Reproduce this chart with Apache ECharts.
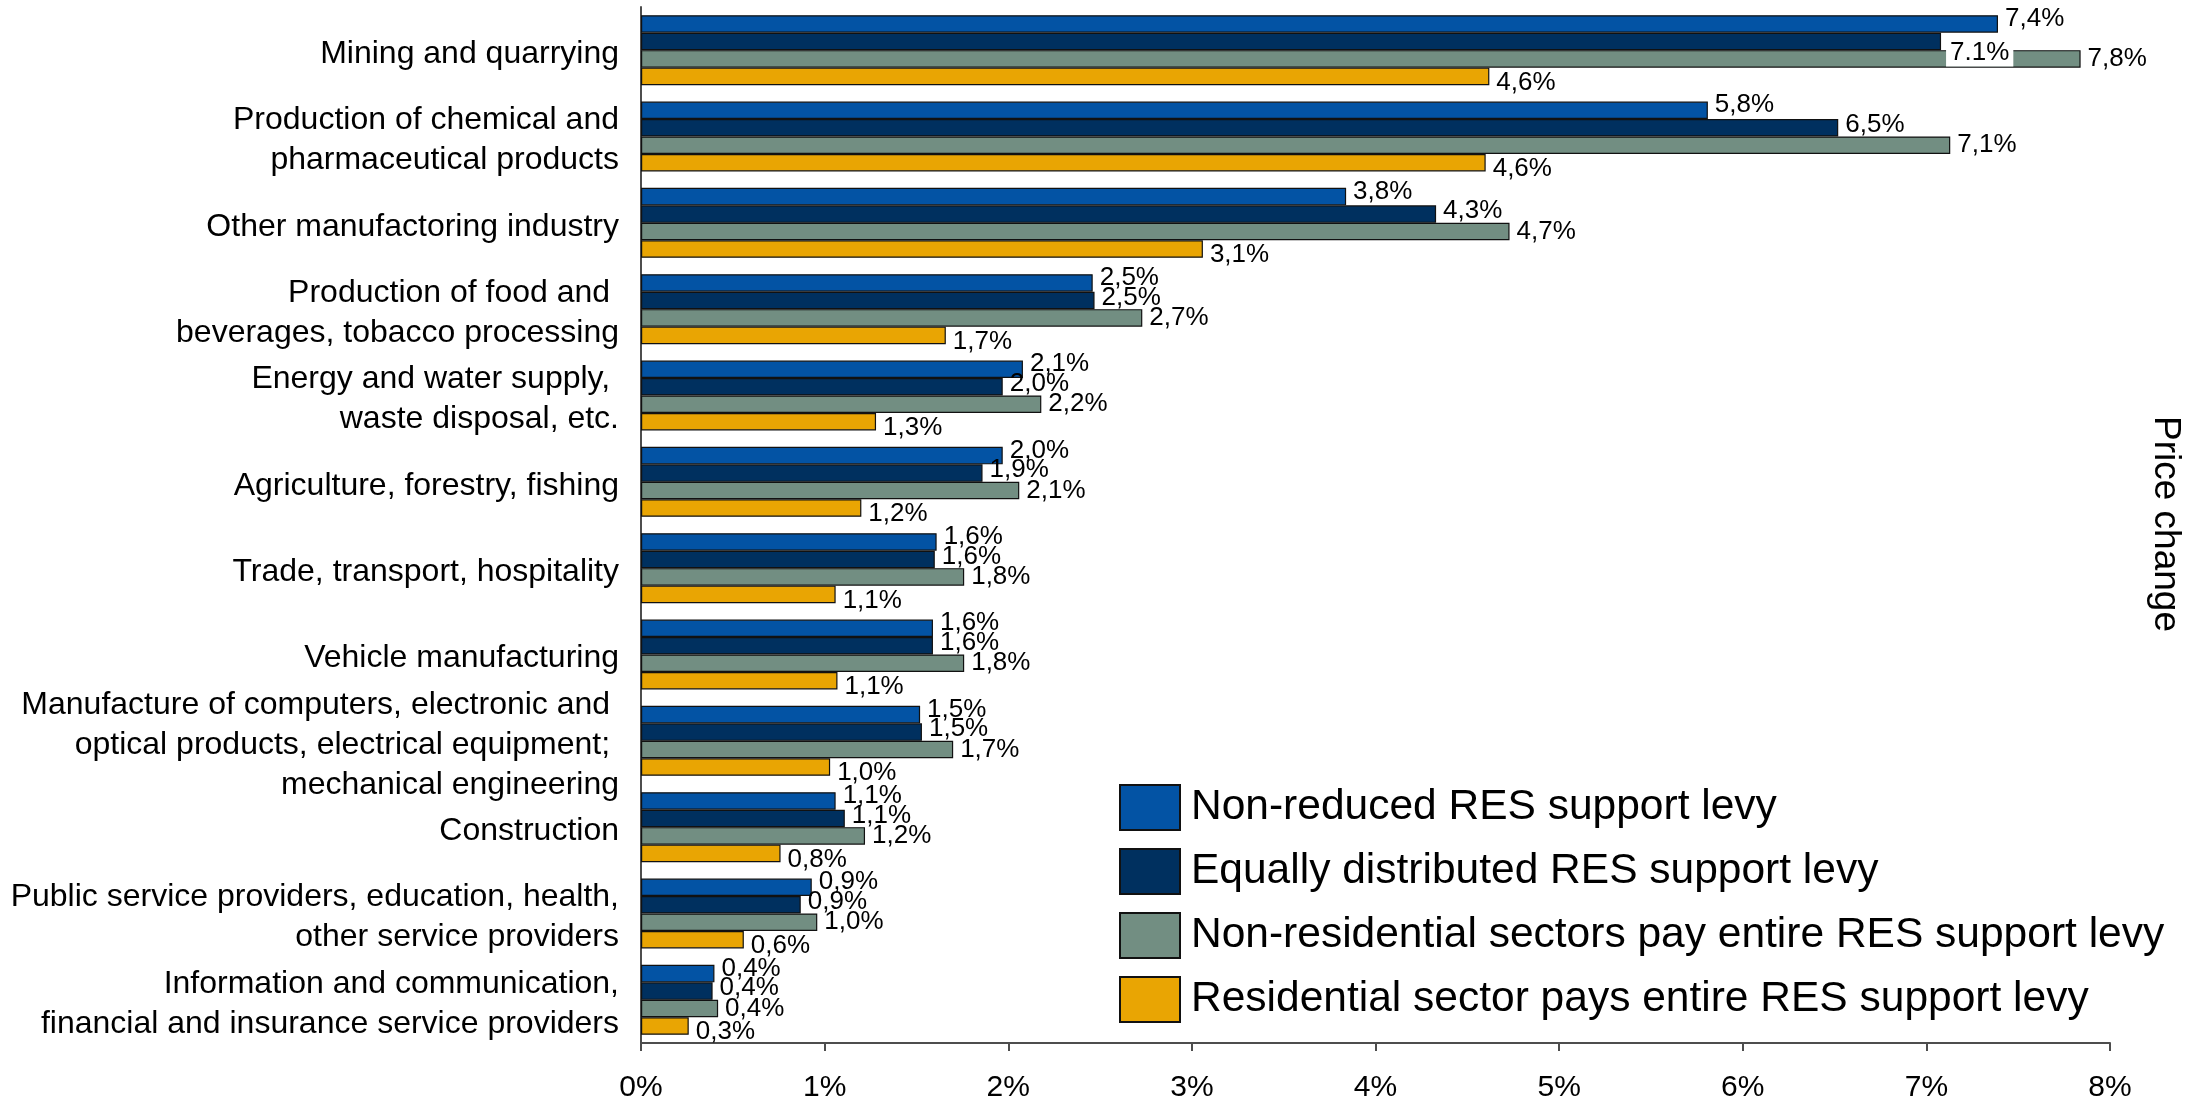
<!DOCTYPE html>
<html>
<head>
<meta charset="utf-8">
<script src="https://cdn.jsdelivr.net/npm/echarts@6/dist/echarts.min.js"></script>
<style>
html,body{margin:0;padding:0;background:#fff;}
#chart{width:2202px;height:1097px;}
</style>
</head>
<body>
<div id="chart"></div>
<script>
const categories = [
  "Mining and quarrying",
  "Production of chemical and\npharmaceutical products",
  "Other manufactoring industry",
  "Production of food and \nbeverages, tobacco processing",
  "Energy and water supply, \nwaste disposal, etc.",
  "Agriculture, forestry, fishing",
  "Trade, transport, hospitality",
  "Vehicle manufacturing",
  "Manufacture of computers, electronic and \noptical products, electrical equipment; \nmechanical engineering",
  "Construction",
  "Public service providers, education, health,\nother service providers",
  "Information and communication,\nfinancial and insurance service providers"
];
const seriesNames = [
  "Non-reduced RES support levy",
  "Equally distributed RES support levy",
  "Non-residential sectors pay entire RES support levy",
  "Residential sector pays entire RES support levy"
];
const nonReduced    = [7.39, 5.81, 3.84, 2.46, 2.08, 1.97, 1.61, 1.59, 1.52, 1.06, 0.93, 0.40];
const equallyDist   = [7.08, 6.52, 4.33, 2.47, 1.97, 1.86, 1.60, 1.59, 1.53, 1.11, 0.87, 0.39];
const nonResidential= [7.84, 7.13, 4.73, 2.73, 2.18, 2.06, 1.76, 1.76, 1.70, 1.22, 0.96, 0.42];
const residential   = [4.62, 4.60, 3.06, 1.66, 1.28, 1.20, 1.06, 1.07, 1.03, 0.76, 0.56, 0.26];
const xTicks = [0, 1, 2, 3, 4, 5, 6, 7, 8];

const colors = ['#0353A4', '#00305F', '#728E82', '#E9A503'];
const labelOffsets = [[0, -5], [0, -3], [0, 0], [0, 6]];
const FONT = '"Liberation Sans", Arial, Helvetica, sans-serif';

function fmt(v) { return v.toFixed(1).replace('.', ',') + '%'; }

const allValues = [nonReduced, equallyDist, nonResidential, residential];

const series = allValues.map((vals, si) => ({
  name: seriesNames[si],
  type: 'bar',
  barGap: '0%',
  barCategoryGap: '19%',
  itemStyle: { color: colors[si], borderColor: '#111', borderWidth: 1.2 },
  label: {
    show: true,
    position: 'right',
    distance: 7,
    offset: labelOffsets[si],
    fontFamily: FONT,
    fontSize: 26,
    color: '#000',
    formatter: p => fmt(p.value)
  },
  data: vals.map((v, ci) => {
    if (si === 1 && ci === 0) {
      return {
        value: v,
        label: {
          formatter: p => p.value.toFixed(1) + '%',
          backgroundColor: '#fff',
          padding: [0, 4, 2, 4],
          distance: 5,
          offset: [0, 11]
        }
      };
    }
    return v;
  })
}));

const chart = echarts.init(document.getElementById('chart'), null, { renderer: 'canvas' });
chart.setOption({
  animation: false,
  backgroundColor: '#fff',
  textStyle: { fontFamily: FONT },
  grid: { left: 641, right: 92, top: 7, bottom: 54, containLabel: false, outerBoundsMode: 'none' },
  xAxis: {
    type: 'value',
    min: xTicks[0],
    max: xTicks[xTicks.length - 1],
    interval: 1,
    axisLine: { show: true, lineStyle: { color: '#4d4d4d', width: 2 } },
    axisTick: { show: true, length: 8, lineStyle: { color: '#4d4d4d', width: 2 } },
    splitLine: { show: false },
    axisLabel: { formatter: '{value}%', fontSize: 30, color: '#000', margin: 30, fontFamily: FONT }
  },
  yAxis: {
    type: 'category',
    inverse: true,
    data: categories,
    axisLine: { show: true, lineStyle: { color: '#4d4d4d', width: 2 } },
    axisTick: { show: false },
    axisLabel: {
      interval: 0, hideOverlap: false, margin: 22, align: 'right',
      formatter: v => '{s| }\n' + v.split('\n').map(l => '{a|' + l + '}').join('\n'),
      rich: {
        s: { fontSize: 1, lineHeight: 8 },
        a: { fontSize: 32, lineHeight: 40, color: '#000', fontFamily: FONT }
      }
    }
  },
  legend: {
    orient: 'vertical',
    left: 1114,
    top: 779,
    itemWidth: 60,
    itemHeight: 45,
    itemGap: 17,
    icon: 'rect',
    textStyle: { fontSize: 42.5, lineHeight: 45, color: '#000', fontFamily: FONT, padding: [0, 0, 0, 6] },
    data: seriesNames
  },
  graphic: [{
    type: 'text',
    x: 2165,
    y: 524,
    rotation: -Math.PI / 2,
    style: {
      text: 'Price change',
      fontSize: 37,
      fontFamily: FONT,
      fill: '#000',
      textAlign: 'center',
      textVerticalAlign: 'middle'
    }
  }],
  series: series
});
</script>
</body>
</html>
